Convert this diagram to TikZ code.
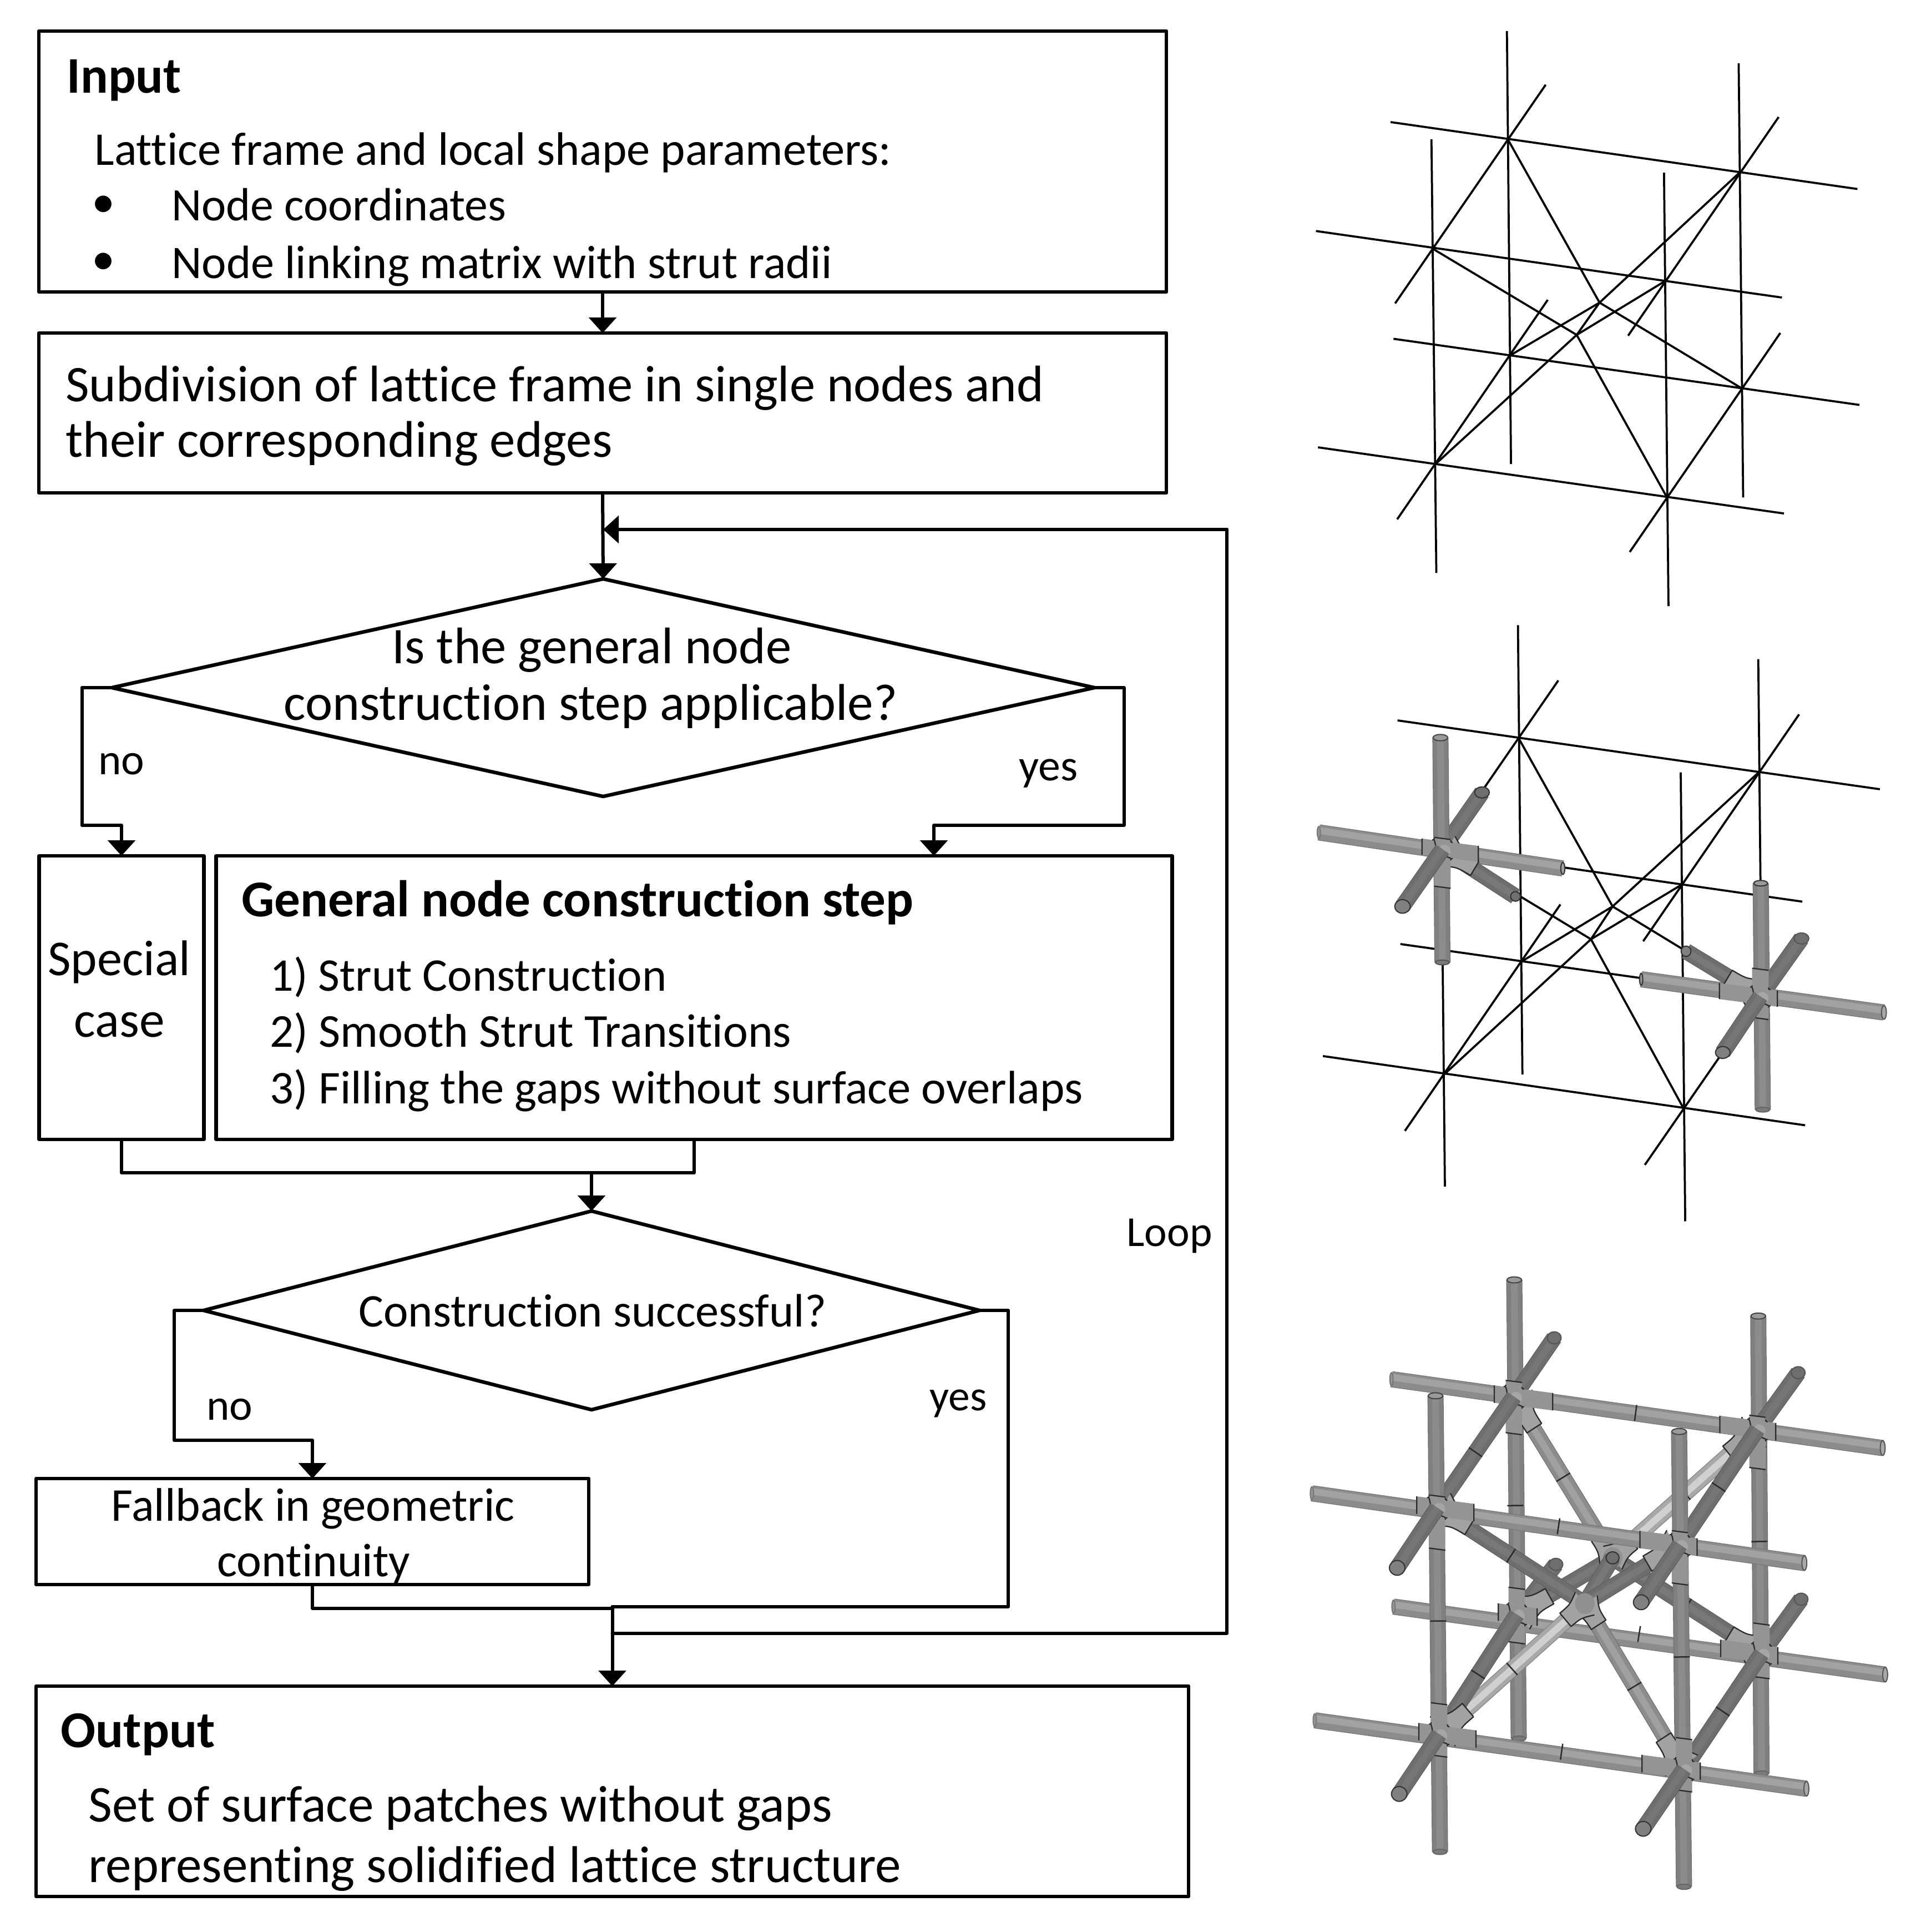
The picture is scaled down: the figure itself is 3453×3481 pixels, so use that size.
\documentclass[tikz,border=0pt]{standalone}
\usepackage{fontspec}
\usepackage{graphicx}
\setmainfont[Ligatures=NoCommon]{Carlito}
\usetikzlibrary{shapes.geometric,arrows.meta,calc}
\newcommand\gc[1]{\definecolor{g#1}{HTML}{#1#1#1}}
\gc{2b}\gc{33}\gc{44}\gc{55}\gc{5a}\gc{5e}\gc{66}\gc{69}\gc{6a}\gc{6e}\gc{70}\gc{72}\gc{74}\gc{76}\gc{77}\gc{78}\gc{7a}\gc{80}\gc{86}\gc{8c}\gc{90}\gc{94}\gc{9a}\gc{9c}\gc{a0}\gc{a2}\gc{a6}\gc{a8}\gc{ac}\gc{d0}
\newcommand\fitw[2]{\pgfmathsetlengthmacro\fw{(#1+5)*0.02cm}\resizebox{\fw}{!}{\fontsize{45}{50}\selectfont #2}}
\tikzset{
 boxs/.style 2 args={draw,line width=.13cm,rectangle,inner sep=0,outer sep=0,line join=round,minimum width=#1*0.02cm,minimum height=#2*0.02cm},
 dias/.style n args={3}{draw,line width=.13cm,diamond,inner sep=0,outer sep=0,line join=round,shape aspect=#3,minimum width=#1*0.02cm,minimum height=#2*0.02cm},
 conn/.style={line width=.12cm,line join=round,line cap=round},
 arr/.style={conn,-{Triangle[length=.56cm,width=.98cm]}},
 lbl/.style={anchor=base west,inner sep=0,outer sep=0,xshift=-.03cm,yshift=-.09cm},
 wire/.style={line width=.075cm,black},
 rodlayers/.style n args={3}{draw=#1,line width=.58cm,postaction={draw=#2,line width=.53cm},postaction={draw=#3,line width=.24cm}},
 rodH/.style={draw=g76,line width=.58cm,postaction={draw=g8c,line width=.53cm},postaction={draw=ga2,line width=.24cm,transform canvas={yshift=.07cm}}},
 rodV/.style={rodlayers={g70}{g80}{g8c}},
 rodD/.style={rodlayers={g5e}{g6e}{g76}},
 rodL/.style={rodlayers={g80}{ga8}{gd0}},
 rodM/.style={rodlayers={g70}{g8c}{ga0}},
 rodK/.style={rodlayers={g5e}{g6e}{g78}},
 bandln/.style={line width=.05cm,draw=g2b},
 jl/.style={line width=.045cm,draw=g2b,line join=round},
}
\newcommand\band[2]{\draw[bandln] ($(#1)!.5!(#2)!.29cm!90:(#2)$) -- ($(#1)!.5!(#2)!.29cm!-90:(#2)$);}
\newcommand\joint[5]{\begin{scope}[shift={(#1)},yslant=-0.13]
 \fill[g94] (-#2,-20) -- (-25,-20) .. controls (-21,-20) and (-20,-21) .. (-20,-25) -- (-20,-#4) -- (20,-#4) -- (20,-25) .. controls (20,-21) and (21,-20) .. (25,-20) -- (#3,-20) -- (#3,20) -- (25,20) .. controls (21,20) and (20,21) .. (20,25) -- (20,#5) -- (-20,#5) -- (-20,25) .. controls (-20,21) and (-21,20) .. (-25,20) -- (-#2,20) -- cycle;
 \fill[ga6] (6,2) circle (14);
 \draw[jl] (-#2,-20) -- (-#2,20) (#3,-20) -- (#3,20) (-20,-#4) -- (20,-#4) (-20,#5) -- (20,#5)
  (-25,-20) .. controls (-21,-20) and (-20,-21) .. (-20,-25)
  (20,-25) .. controls (20,-21) and (21,-20) .. (25,-20)
  (25,20) .. controls (21,20) and (20,21) .. (20,25)
  (-20,25) .. controls (-20,21) and (-21,20) .. (-25,20)
  (-20,-20) .. controls (-15,-5) and (-15,5) .. (-20,20)
  (-20,20) .. controls (-5,15) and (5,15) .. (20,20);
 \end{scope}}
\newcommand\filletr[2]{\begin{scope}[shift={(#1)},rotate=#2]
 \fill[ga2] (10,-44) .. controls (50,-20) .. (92,-20) -- (92,20) .. controls (50,20) .. (10,44) -- cycle;
 \draw[jl] (10,-44) .. controls (50,-20) .. (92,-20) -- (92,20) .. controls (50,20) .. (10,44);
 \end{scope}}
\newcommand\filletc[2]{\begin{scope}[shift={(#1)},rotate=#2]
 \fill[ga2] (0,-34) .. controls (30,-20) .. (62,-20) -- (62,20) .. controls (30,20) .. (0,34) -- cycle;
 \draw[jl] (0,-34) .. controls (30,-20) .. (62,-20) -- (62,20) .. controls (30,20) .. (0,34);
 \end{scope}}
\newcommand\rodend[5]{\draw[line width=.04cm,draw=#3,fill=#2] (#1) ellipse [x radius=#4,y radius=#5];}
\newcommand\wireall{
 \foreach \a/\b in {h1a/h1b,h2a/h2b,h3a/h3b,h4a/h4b,v1a/v1b,v2a/v2b,v3a/v3b,v4a/v4b,d1a/d1b,d2a/d2b,d3a/d3b,d4a/d4b,n1/c1,n2/c1,n5/c1,n6/c1,n3/c2,n4/c2,n7/c2,n8/c2,c1/c2}
 {\draw[wire] (\a) -- (\b);}
}
\newcommand\setpts[1]{\foreach \nm/\p in {#1} {\def\tmpc{\coordinate (\nm) at }\expandafter\tmpc\p;}}
\begin{document}
\begin{tikzpicture}[x=0.02cm,y=-0.02cm]
\useasboundingbox (0,0) rectangle (3453,3481);
\fill[white] (0,0) rectangle (3453,3481);

% ---------- flowchart boxes ----------
\node[boxs={2032}{470}] (input) at (1086,291) {};
\node[boxs={2032}{288}] (subdiv) at (1086,744) {};
\node[dias={1771}{392}{4.518}] (dia1) at (1087,1239) {};
\node[boxs={297}{511}] (special) at (219,1797.5) {};
\node[boxs={1723}{511}] (general) at (1251,1797.5) {};
\node[dias={1398}{358}{3.905}] (dia2) at (1066,2361) {};
\node[boxs={996}{191}] (fallback) at (563,2759.5) {};
\node[boxs={2077}{379}] (output) at (1103.5,3227.5) {};

% ---------- labels ----------
\node[lbl] (tInput) at (122,163.5) {\fitw{201}{\bfseries Input}};
\node[lbl] (tLat) at (172,293) {\fitw{1431}{Lattice frame and local shape parameters:}};
\node[anchor=base,inner sep=0,yshift=-.09cm] (tB1) at (186,387) {\fontsize{48}{50}\selectfont •};
\node[lbl] (tCoord) at (311,393) {\fitw{598}{Node coordinates}};
\node[anchor=base,inner sep=0,yshift=-.09cm] (tB2) at (186,490) {\fontsize{48}{50}\selectfont •};
\node[lbl] (tLink) at (311,497) {\fitw{1185}{Node linking matrix with strut radii}};
\node[lbl] (tSub) at (120,719) {\fitw{1758}{Subdivision of lattice frame in single nodes and}};
\node[lbl] (tTheir) at (120,819) {\fitw{980}{their corresponding edges}};
\node[lbl] (tIs) at (708,1191) {\fitw{715}{Is the general node}};
\node[lbl] (tCon) at (513,1293) {\fitw{1101}{construction step applicable?}};
\node[lbl] (tNo1) at (179,1391) {\fitw{78}{no}};
\node[lbl] (tYes1) at (1838,1402) {\fitw{101}{yes}};
\node[lbl] (tSpec) at (88,1753) {\fitw{252}{Special}};
\node[lbl] (tCase) at (135,1864) {\fitw{158}{case}};
\node[lbl] (tGen) at (437,1647) {\fitw{1206}{\bfseries General node construction step}};
\node[lbl] (tS1) at (488,1781) {\fitw{710}{1) Strut Construction}};
\node[lbl] (tS2) at (488,1882) {\fitw{935}{2) Smooth Strut Transitions}};
\node[lbl] (tS3) at (488,1984) {\fitw{1460}{3) Filling the gaps without surface overlaps}};
\node[lbl] (tLoop) at (2032,2241) {\fitw{149}{Loop}};
\node[lbl] (tSucc) at (648,2386) {\fitw{838}{Construction successful?}};
\node[lbl] (tNo2) at (374,2554) {\fitw{78}{no}};
\node[lbl] (tYes2) at (1677,2537) {\fitw{98}{yes}};
\node[lbl] (tFall) at (202,2736) {\fitw{722}{Fallback in geometric}};
\node[lbl] (tCont) at (393,2836) {\fitw{343}{continuity}};
\node[lbl] (tOut) at (111,3144) {\fitw{273}{\bfseries Output}};
\node[lbl] (tSet) at (161,3278) {\fitw{1335}{Set of surface patches without gaps}};
\node[lbl] (tRep) at (161,3387) {\fitw{1460}{representing solidified lattice structure}};

% ---------- connectors ----------
\coordinate (loopEnd) at (1087,954);
\coordinate (loopCorner) at (2211,954);
\coordinate (genIn) at (1683,1542);
\coordinate (mergeMid) at (1066,2113);
\coordinate (joinA) at (1103.5,2895);
\coordinate (joinB) at (1103.5,2898);
\coordinate (joinC) at (1103.5,2943);
\draw[arr] (input.south) -- (subdiv.north);
\draw[arr] (subdiv.south) -- (dia1.north);
\draw[arr] (dia1.west) -- ++(-54,0) -- ++(0,248) -| (special.north);
\draw[arr] (dia1.east) -- ++(53,0) -- ++(0,248) -| (genIn);
\draw[conn] (special.south) |- (mergeMid) -| (general.south);
\draw[arr] (mergeMid) -- (dia2.north);
\draw[arr] (dia2.west) -- ++(-53,0) -- ++(0,234) -| (fallback.north);
\draw[conn] (dia2.east) -- ++(52,0) |- (joinA);
\draw[conn] (fallback.south) |- (joinB);
\draw[arr] (joinA) -- (output.north);
\draw[conn] (joinC) -| (loopCorner);
\draw[arr] (loopCorner) -- (loopEnd);

% ---------- lattice 1: wire frame ----------
\begin{scope}[shift={(46cm,-0.6cm)},x=0.014706cm,y=-0.014030cm]
\setpts{n1/{(568,315)},n2/{(1137,400)},n3/{(385,597)},n4/{(953,680)},n5/{(575,870)},n6/{(1141,955)},n7/{(391,1150)},n8/{(958,1235)},c1/{(793,735)},c2/{(737,818)},h1a/{(281,271)},h1b/{(1425,443)},h2a/{(98,551)},h2b/{(1240,722)},h3a/{(288,828)},h3b/{(1430,998)},h4a/{(103,1107)},h4b/{(1245,1277)},v1a/{(566,37)},v1b/{(576,1150)},v2a/{(1134,120)},v2b/{(1145,1236)},v3a/{(381,315)},v3b/{(393,1430)},v4a/{(951,401)},v4b/{(962,1515)},d1a/{(661,175)},d1b/{(292,737)},d2a/{(1232,258)},d2b/{(863,820)},d3a/{(666,728)},d3b/{(297,1292)},d4a/{(1236,813)},d4b/{(867,1376)}}
\wireall
\end{scope}

% ---------- lattice 2: wire frame with two solid nodes ----------
\begin{scope}[shift={(46cm,-22cm)},x=0.014706cm,y=-0.014413cm]
\setpts{n1/{(595,320)},n2/{(1183,405)},n3/{(408,597)},n4/{(992,687)},n5/{(603,877)},n6/{(1187,965)},n7/{(412,1160)},n8/{(999,1245)},c1/{(825,740)},c2/{(772,822)},h1a/{(298,275)},h1b/{(1480,447)},h2a/{(105,555)},h2b/{(1290,728)},h3a/{(305,834)},h3b/{(1490,1005)},h4a/{(115,1114)},h4b/{(1297,1287)},v1a/{(593,37)},v1b/{(604,1160)},v2a/{(1182,122)},v2b/{(1193,1248)},v3a/{(403,318)},v3b/{(414,1440)},v4a/{(992,405)},v4b/{(1003,1527)},d1a/{(692,175)},d1b/{(310,740)},d2a/{(1282,260)},d2b/{(900,827)},d3a/{(697,735)},d3b/{(316,1301)},d4a/{(1288,820)},d4b/{(904,1386)}}
\wireall
% solid node 3
\setpts{p1/{(703,645)},p2/{(408,880)},p3/{(505,455)},p4/{(587,715)},p5/{(1188,682)},p6/{(895,922)},p7/{(1095,1105)},p8/{(1005,852)}}
\draw[rodD] (p3) -- (n3);
\rodend{p3}{g6e}{g33}{18}{14}
\draw[rodV] (v3a) -- (p2);
\rodend{v3a}{g9a}{g44}{18}{8}
\rodend{p2}{g7a}{g55}{17}{6}
\draw[rodH] (h2a) -- (p1);
\rodend{p1}{ga0}{g33}{5}{15}
\rodend{h2a}{g94}{g77}{4}{15}
\draw[rodK] (n3) -- (p4);
\rodend{p4}{g70}{g33}{12}{12}
\filletr{n3}{-31}
\joint{n3}{50}{88}{27}{95}
\draw[rodD] (n3) -- (d1b);
\rodend{d1b}{g80}{g33}{19}{17}
% solid node 6
\draw[rodD] (d4a) -- (n6);
\rodend{d4a}{g6e}{g55}{18}{14}
\draw[rodV] (p5) -- (v2b);
\rodend{p5}{g9a}{g33}{17}{7}
\rodend{v2b}{g7a}{g66}{17}{6}
\draw[rodH] (p6) -- (h3b);
\rodend{p6}{g94}{g33}{4}{15}
\rodend{h3b}{ga8}{g55}{6}{17}
\draw[rodK] (p8) -- (n6);
\rodend{p8}{g80}{g33}{12}{13}
\filletr{n6}{149}
\joint{n6}{100}{42}{68}{55}
\draw[rodD] (n6) -- (p7);
\rodend{p7}{g80}{g33}{18}{15}
\end{scope}

% ---------- lattice 3: solid ----------
\begin{scope}[shift={(46cm,-45cm)},x=0.014706cm,y=-0.015699cm]
\setpts{n1/{(583,340)},n2/{(1180,415)},n3/{(395,595)},n4/{(990,680)},n5/{(590,840)},n6/{(1190,930)},n7/{(400,1115)},n8/{(1000,1195)},c1/{(825,710)},c2/{(757,815)},h1a/{(283,300)},h1b/{(1487,458)},h2a/{(88,562)},h2b/{(1295,722)},h3a/{(288,822)},h3b/{(1493,978)},h4a/{(95,1083)},h4b/{(1300,1240)},v1a/{(584,72)},v1b/{(595,1125)},v2a/{(1182,155)},v2b/{(1190,1205)},v3a/{(391,338)},v3b/{(402,1385)},v4a/{(988,420)},v4b/{(1000,1465)},d1a/{(682,205)},d1b/{(297,733)},d2a/{(1280,285)},d2b/{(895,812)},d3a/{(686,725)},d3b/{(302,1252)},d4a/{(1287,805)},d4b/{(900,1332)}}
% back plane
\foreach \a/\b in {v1a/v1b,v2a/v2b} {\draw[rodV] (\a) -- (\b);}
\foreach \a/\b in {h1a/h1b,h3a/h3b} {\draw[rodH] (\a) -- (\b);}
\band{n1}{n2}\band{n5}{n6}\band{n1}{n5}\band{n2}{n6}
\rodend{v1a}{g9a}{g44}{18}{7}
\rodend{v2a}{g9a}{g44}{18}{7}
\rodend{v1b}{g7a}{g66}{17}{6}
\rodend{v2b}{g7a}{g66}{17}{6}
\rodend{h1a}{g94}{g77}{4}{15}
\rodend{h3a}{g94}{g77}{4}{15}
\rodend{h1b}{ga8}{g55}{6}{17}
\rodend{h3b}{ga8}{g55}{6}{17}
% depth struts behind the back joints
\foreach \a/\b in {d1a/n1,d2a/n2,d3a/n5,d4a/n6} {\draw[rodD] (\a) -- (\b); \rodend{\a}{g6e}{g55}{17}{14}}
% diagonals
\draw[rodK] (n5) -- (c1); \draw[rodK] (c1) -- (n6);
\band{n5}{c1}\band{c1}{n6}
\draw[rodM] (n1) -- (c1); \draw[rodL] (n2) -- (c1);
\band{n1}{c1}\band{n2}{c1}
\filletc{c1}{123}\filletc{c1}{39}
\fill[g90] (c1) circle (24);
\draw[rodK] (c1) -- (c2);
\rodend{c1}{g6e}{g33}{16}{14}
\draw[rodK] (n3) -- (c2); \draw[rodK] (c2) -- (n4);
\band{n3}{c2}
\draw[rodM] (c2) -- (n8); \draw[rodL] (c2) -- (n7);
\band{c2}{n8}\band{c2}{n7}
\filletc{c2}{-57}\filletc{c2}{220}
\fill[g90] (c2) circle (24);
% joints of the back plane
\filletr{n1}{-57}\joint{n1}{48}{95}{35}{85}
\filletr{n2}{-141}\joint{n2}{92}{45}{30}{90}
\filletr{n5}{29}\joint{n5}{45}{50}{60}{65}
\filletr{n6}{149}\joint{n6}{100}{40}{68}{55}
% depth struts between the planes
\foreach \a/\b in {n1/n3,n2/n4,n5/n7,n6/n8} {\draw[rodD] (\a) -- (\b); \band{\a}{\b}}
\foreach \e in {n3,n4,n8} {\rodend{\e}{g6e}{g33}{17}{15}}
% front plane
\foreach \a/\b in {v3a/v3b,v4a/v4b} {\draw[rodV] (\a) -- (\b);}
\foreach \a/\b in {h2a/h2b,h4a/h4b} {\draw[rodH] (\a) -- (\b);}
\band{n3}{n4}\band{n7}{n8}\band{n3}{n7}\band{n4}{n8}
\rodend{v3a}{g9a}{g44}{18}{7}
\rodend{v4a}{g9a}{g44}{18}{7}
\rodend{v3b}{g7a}{g66}{17}{6}
\rodend{v4b}{g7a}{g66}{17}{6}
\rodend{h2a}{g94}{g77}{4}{15}
\rodend{h4a}{g94}{g77}{4}{15}
\rodend{h2b}{ga8}{g55}{6}{17}
\rodend{h4b}{ga8}{g55}{6}{17}
% joints of the front plane
\filletr{n3}{-31}\joint{n3}{50}{90}{27}{95}
\filletr{n4}{-150}\joint{n4}{98}{42}{30}{90}
\filletr{n7}{40}\joint{n7}{50}{90}{70}{50}
\filletr{n8}{123}\joint{n8}{103}{40}{70}{50}
% lower depth stubs over the joints
\foreach \a/\b in {n3/d1b,n4/d2b,n7/d3b,n8/d4b} {\draw[rodD] (\a) -- (\b); \rodend{\b}{g80}{g33}{19}{17}}
\end{scope}
\end{tikzpicture}
\end{document}
